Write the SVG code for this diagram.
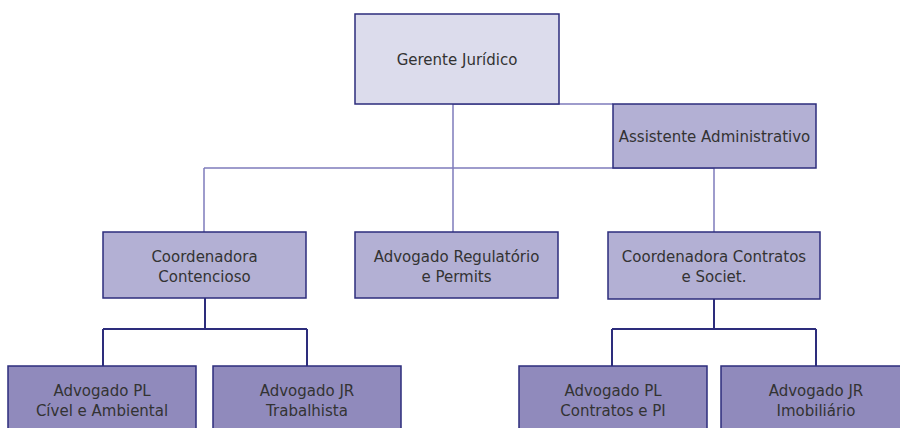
<svg xmlns="http://www.w3.org/2000/svg" width="900" height="428" viewBox="0 0 900 428">
<style>
.box{stroke:#2d2d7c;stroke-width:1.5}
.l1{fill:#dcdcec}
.l2{fill:#b3b0d4}
.l3{fill:#908abc}
.t{font-family:"DejaVu Sans",sans-serif;font-size:15px;fill:#333333;text-anchor:middle}
.cu{fill:none;stroke:#7f7cbc;stroke-width:1.5}
.cd{fill:none;stroke:#2d2d7c;stroke-width:2}
</style>
<rect width="900" height="428" fill="#ffffff"/>
<g id="connectors">
<path class="cu" d="M453,104 V232 M453,104 H613 M204,168 H714 M204,168 V232 M714,168 V232"/>
<path class="cd" d="M205,298 V329 M103,329 H307 M103,329 V366 M307,329 V366 M714,299 V329 M612,329 H816 M612,329 V366 M816,329 V366"/>
</g>
<g id="gerente">
<rect class="box l1" x="355" y="14" width="204" height="90"/>
<text class="t" x="457" y="65">Gerente Jurídico</text>
</g>
<g id="assistente">
<rect class="box l2" x="613" y="104" width="203" height="64"/>
<text class="t" x="714.5" y="142">Assistente Administrativo</text>
</g>
<g id="coord-contencioso">
<rect class="box l2" x="103" y="232" width="203" height="66"/>
<text class="t" x="204.5" y="262">Coordenadora</text>
<text class="t" x="204.5" y="282">Contencioso</text>
</g>
<g id="adv-regulatorio">
<rect class="box l2" x="355" y="232" width="203" height="66"/>
<text class="t" x="456.5" y="262">Advogado Regulatório</text>
<text class="t" x="456.5" y="282">e Permits</text>
</g>
<g id="coord-contratos">
<rect class="box l2" x="608" y="232" width="212" height="67"/>
<text class="t" x="714" y="262">Coordenadora Contratos</text>
<text class="t" x="714" y="282">e Societ.</text>
</g>
<g id="adv-pl-civel">
<rect class="box l3" x="8" y="366" width="188" height="80"/>
<text class="t" x="102" y="396">Advogado PL</text>
<text class="t" x="102" y="416">Cível e Ambiental</text>
</g>
<g id="adv-jr-trabalhista">
<rect class="box l3" x="213" y="366" width="188" height="80"/>
<text class="t" x="307" y="396">Advogado JR</text>
<text class="t" x="307" y="416">Trabalhista</text>
</g>
<g id="adv-pl-contratos">
<rect class="box l3" x="519" y="366" width="188" height="80"/>
<text class="t" x="613" y="396">Advogado PL</text>
<text class="t" x="613" y="416">Contratos e PI</text>
</g>
<g id="adv-jr-imobiliario">
<rect class="box l3" x="721" y="366" width="190" height="80"/>
<text class="t" x="816" y="396">Advogado JR</text>
<text class="t" x="816" y="416">Imobiliário</text>
</g>
</svg>
